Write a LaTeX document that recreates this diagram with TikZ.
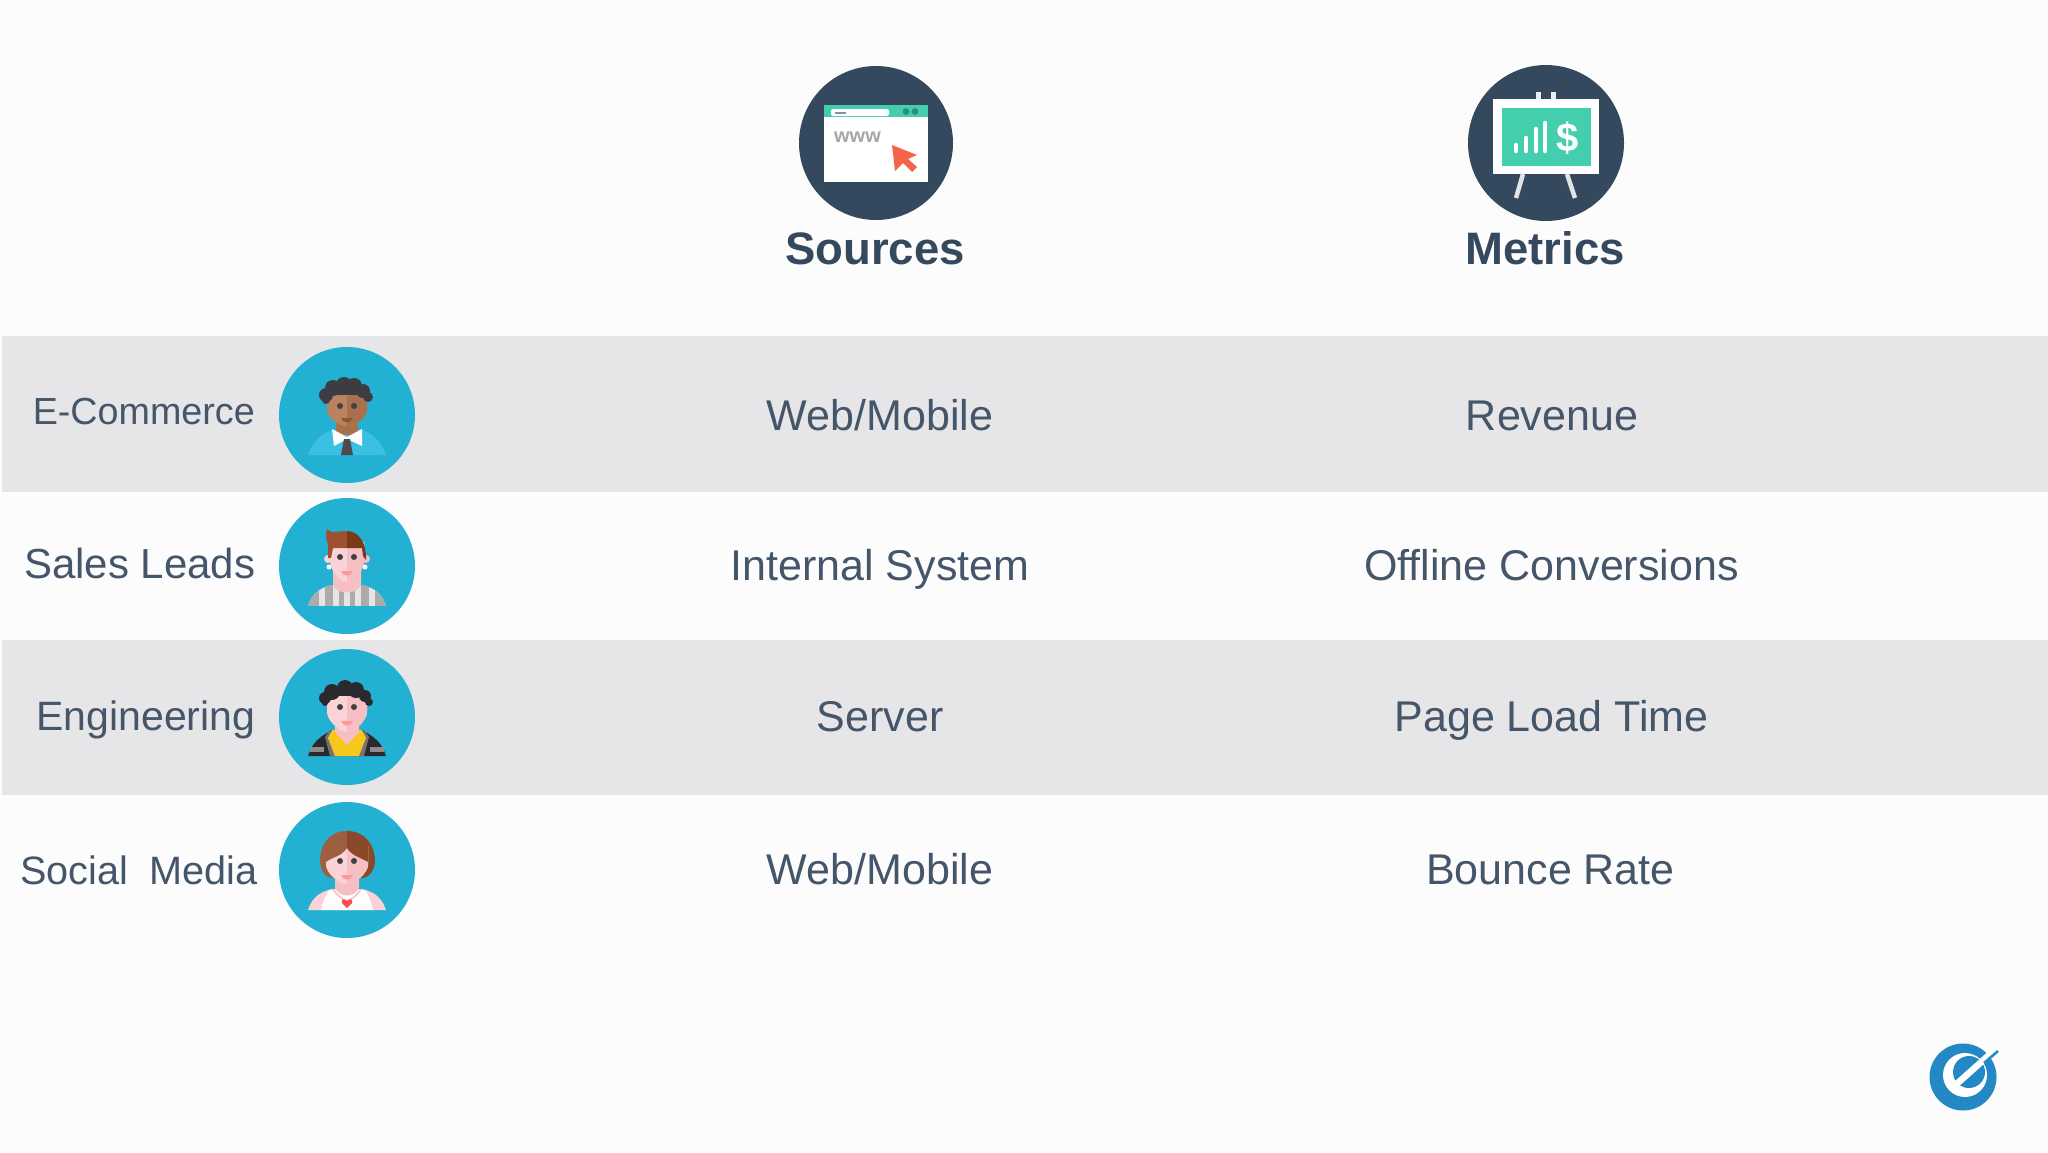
\documentclass[tikz,border=0pt]{standalone}
\usepackage{fontspec}
\setmainfont{Liberation Sans}
\definecolor{navy}{HTML}{34495E}
\definecolor{labelgray}{HTML}{45556A}
\definecolor{bandgray}{HTML}{E6E6E8}
\definecolor{teal}{HTML}{43CFAE}
\definecolor{tealdark}{HTML}{2A8F80}
\definecolor{cursorred}{HTML}{F4634A}
\definecolor{avatar}{HTML}{22B1D3}
\definecolor{shirtblue}{HTML}{3CC0E2}
\definecolor{logoblue}{HTML}{2388C4}
\definecolor{skinpink}{HTML}{FBD3D7}
\definecolor{skinshade}{HTML}{F5BFC3}
\definecolor{skinbrown}{HTML}{B9835F}
\definecolor{shadebrown}{HTML}{A8714E}
\definecolor{hairdark}{HTML}{3B3D42}
\definecolor{hairblack}{HTML}{2A2A2E}
\definecolor{hairred}{HTML}{9C5230}
\definecolor{hairreddark}{HTML}{7A3A18}
\definecolor{hairlight}{HTML}{9C6040}
\definecolor{hairmid}{HTML}{8A4A2A}
\definecolor{shirtyellow}{HTML}{F7C71E}
\tikzset{
	rowtext/.style={anchor=base, text=labelgray, inner sep=0pt, font=\fontsize{43}{50}\selectfont},
	headtext/.style={anchor=base, text=navy, inner sep=0pt, font=\bfseries\fontsize{45.5}{52}\selectfont},
	teamtext/.style={anchor=base east, text=labelgray, inner sep=0pt},
}
% face outline, its right half is shaded
\def\facepath[#1][#2](#3:#4){
	\fill[#1] (-#3,-24) -- (#3,-24) -- (#3,-5) .. controls (#3,3) and (8,#4) .. (0,#4) .. controls (-8,#4) and (-#3,3) .. (-#3,-5) -- cycle;
	\fill[#2] (0,-24) -- (#3,-24) -- (#3,-5) .. controls (#3,3) and (8,#4) .. (0,#4) -- cycle;
}
\def\eyes(#1){
	\fill[black!75] (-7,#1) circle (3);
	\fill[black!75] (7,#1) circle (3);
}
\def\mouth[#1](#2){
	\fill[#1] (-6,#2) .. controls (-4,#2+6) and (4,#2+6) .. (6,#2) -- cycle;
}
\begin{document}
\begin{tikzpicture}[x=1pt,y=-1pt]
			%%%%% START %%%%%
			\useasboundingbox (0,0) rectangle (2048,1152);
			\fill[white!99!black] (0,0) rectangle (2048,1152);
			
			% bands
			\fill[bandgray] (2,336) rectangle (2048,492);
			\fill[bandgray] (2,640) rectangle (2048,795);
			
			% sources icon
			\fill[navy] (876,143) circle (77);
			\fill[white] (824,105) rectangle (928,182);
			\fill[teal] (824,105) rectangle (928,117);
			\fill[white, rounded corners=2pt] (831,109) rectangle (889,116);
			\fill[navy!60] (835,111.5) rectangle (846,113.5);
			\fill[tealdark] (906,111.5) circle (3.4);
			\fill[tealdark] (915,111.5) circle (3.4);
			\node[anchor=base, text=black!35, inner sep=0pt, font=\bfseries\fontsize{20}{20}\selectfont] (www) at (857.5,142) {www};
			\fill[cursorred] (892,145) -- (917,155) -- (908,159) -- (917,167) -- (912,172) -- (903,163) -- (895,171) -- cycle;
			\node[headtext] (sources) at (875,264) {Sources};
			
			% metrics icon
			\fill[navy] (1546,143) circle (78);
			\draw[white!90!navy, line width=5pt] (1538,92) -- (1538,100);
			\draw[white!90!navy, line width=5pt] (1553,92) -- (1553,100);
			\draw[white!85!navy, line width=4.5pt] (1523,174) -- (1516,198);
			\draw[white!85!navy, line width=4.5pt] (1567,174) -- (1575,198);
			\fill[white] (1493,99) rectangle (1599,174);
			\fill[teal] (1502,108) rectangle (1591,166);
			\draw[white, line width=4.5pt, line cap=round] (1516,145) -- (1516,151);
			\draw[white, line width=4.5pt, line cap=round] (1526,138) -- (1526,151);
			\draw[white, line width=4.5pt, line cap=round] (1536,129) -- (1536,151);
			\draw[white, line width=4.5pt, line cap=round] (1545,123) -- (1545,151);
			\node[anchor=center, text=white, inner sep=0pt, font=\bfseries\fontsize{40}{40}\selectfont] (dollar) at (1568,138) {\$};
			\node[headtext] (metrics) at (1545,264) {Metrics};
			
			% avatars
			\fill[avatar] (347,415) circle (68);
			\fill[avatar] (347,566) circle (68);
			\fill[avatar] (347,717) circle (68);
			\fill[avatar] (347,870) circle (68);
			
			% e-commerce
			\begin{scope}[shift={(347,415)}]
				\fill[shirtblue] (-39,40) .. controls (-35,28) and (-28,20) .. (-15,15) -- (15,15) .. controls (28,20) and (35,28) .. (39,40) -- cycle;
				\fill[shadebrown] (-11,0) rectangle (11,20);
				\fill[white] (-15,14) -- (0,22) -- (15,14) -- (15,31) -- (0,24) -- (-13,31) -- cycle;
				\fill[black!70] (-3,24) -- (3,24) -- (6,40) -- (-6,40) -- cycle;
				\facepath[skinbrown][shadebrown](20:11)
				\fill[hairdark] (-21,-20) circle (7);
				\fill[hairdark] (-14,-27) circle (8);
				\fill[hairdark] (-3,-30) circle (8);
				\fill[hairdark] (7,-29) circle (8);
				\fill[hairdark] (16,-24) circle (7);
				\fill[hairdark] (21,-18) circle (5);
				\fill[hairdark] (-21,-15) circle (4);
				\fill[hairdark] (-16,-26) rectangle (17,-20);
				\eyes(-9)
				\mouth[brown!70!black](3)
			\end{scope}
			
			% sales leads
			\begin{scope}[shift={(347,566)}]
				\begin{scope}
					\clip (-39,40) .. controls (-35,28) and (-28,22) .. (-15,19) -- (15,19) .. controls (28,22) and (35,28) .. (39,40) -- cycle;
					\fill[black!10] (-39,15) rectangle (39,40);
					\fill[black!33] (-40,15) rectangle (-28,40);
					\fill[black!33] (-22,15) rectangle (-14,40);
					\fill[black!33] (-8,22) rectangle (-3,40);
					\fill[black!33] (3,22) rectangle (8,40);
					\fill[black!33] (14,15) rectangle (22,40);
					\fill[black!33] (28,15) rectangle (40,40);
				\end{scope}
				\fill[skinshade] (-14,0) -- (14,0) -- (14,19) .. controls (10,29) and (-10,29) .. (-14,19) -- cycle;
				\fill[skinpink] (-19,-7) circle (4);
				\fill[skinshade] (19,-7) circle (4);
				\fill[white] (-18,1) circle (2.5);
				\fill[white] (18,1) circle (2.5);
				\facepath[skinpink][skinshade](17:16)
				\fill[hairred] (-19,-8) -- (-19,-22) .. controls (-22,-28) and (-21,-33) .. (-20,-37) .. controls (-17,-32) and (-8,-35) .. (0,-35) -- (0,-18) -- (-14,-18) -- (-16,-8) -- cycle;
				\fill[hairreddark] (0,-35) .. controls (12,-35) and (20,-22) .. (19,-6) -- (16,-10) -- (15,-18) -- (0,-18) -- cycle;
				\eyes(-9)
				\mouth[red!40!white](5)
			\end{scope}
			
			% engineering
			\begin{scope}[shift={(347,717)}]
				\fill[hairblack] (-39,39) .. controls (-35,26) and (-28,20) .. (-15,13) -- (15,13) .. controls (28,20) and (35,26) .. (39,39) -- cycle;
				\fill[black!55] (-18,14) -- (-22,20) -- (-17,39) -- (-10,39) -- (-12,16) -- cycle;
				\fill[black!55] (18,14) -- (22,20) -- (17,39) -- (10,39) -- (12,16) -- cycle;
				\fill[shirtyellow] (-15,13) -- (15,13) -- (19,21) -- (12,39) -- (-12,39) -- (-19,21) -- cycle;
				\fill[black!45] (-37,30) rectangle (-23,35);
				\fill[black!45] (23,30) rectangle (37,35);
				\fill[skinshade] (-12,0) -- (12,0) -- (12,15) -- (0,28) -- (-12,15) -- cycle;
				\facepath[skinpink][skinshade](20:15)
				\fill[hairblack] (-22,-19) circle (6);
				\fill[hairblack] (-15,-25) circle (8);
				\fill[hairblack] (-2,-29) circle (8);
				\fill[hairblack] (9,-27) circle (8);
				\fill[hairblack] (18,-21) circle (6);
				\fill[hairblack] (22,-15) circle (4);
				\fill[hairblack] (-22,-14) circle (3);
				\fill[hairblack] (-16,-26) rectangle (16,-21);
				\eyes(-10)
				\mouth[red!40!white](4)
			\end{scope}
			
			% social media
			\begin{scope}[shift={(347,870)}]
				\fill[hairlight] (0,-39) .. controls (-20,-39) and (-27,-22) .. (-27,-10) .. controls (-27,0) and (-22,8) .. (-15,8) -- (0,8) -- cycle;
				\fill[hairmid] (0,-39) .. controls (20,-39) and (28,-22) .. (28,-10) .. controls (28,0) and (22,8) .. (15,8) -- (0,8) -- cycle;
				\fill[skinpink] (-39,40) .. controls (-35,28) and (-28,22) .. (-15,19) -- (15,19) .. controls (28,22) and (35,28) .. (39,40) -- cycle;
				\fill[white] (-26,40) .. controls (-24,32) and (-22,26) .. (-18,20) -- (18,20) .. controls (22,26) and (24,32) .. (26,40) -- cycle;
				\fill[skinshade] (-12,0) -- (12,0) -- (12,18) .. controls (8,28) and (-8,28) .. (-12,18) -- cycle;
				\draw[skinshade, line width=1.5pt] (-14,19) .. controls (-10,26) and (-5,28) .. (0,32);
				\draw[skinshade, line width=1.5pt] (14,19) .. controls (10,26) and (5,28) .. (0,32);
				\fill[red!70!white] (0,38) -- (-5,33) .. controls (-7,29) and (-2,28) .. (0,31) .. controls (2,28) and (7,29) .. (5,33) -- cycle;
				\facepath[skinpink][skinshade](21:14)
				\fill[hairlight] (-21,-8) .. controls (-15,-13) and (-6,-13) .. (0,-22) -- (0,-32) -- (-21,-28) -- cycle;
				\fill[hairmid] (0,-22) .. controls (4,-15) and (12,-13) .. (21,-8) -- (21,-28) -- (0,-32) -- cycle;
				\eyes(-9)
				\mouth[red!40!white](5)
			\end{scope}
			
			% team labels
			\node[teamtext, font=\fontsize{37.7}{44}\selectfont] (ecommerce) at (255,424) {E-Commerce};
			\node[teamtext, font=\fontsize{42}{48}\selectfont] (salesleads) at (255.5,578) {Sales Leads};
			\node[teamtext, font=\fontsize{41}{48}\selectfont] (engineering) at (255.5,730) {Engineering};
			\node[teamtext, font=\fontsize{39.6}{46}\selectfont] (socialmedia) at (258,884) {Social\ \ Media};
			
			% sources column
			\node[rowtext] (source1) at (880,430) {Web/Mobile};
			\node[rowtext] (source2) at (880,580) {Internal System};
			\node[rowtext] (source3) at (880,731) {Server};
			\node[rowtext] (source4) at (880,884) {Web/Mobile};
			
			% metrics column
			\node[rowtext] (metric1) at (1552,430) {Revenue};
			\node[rowtext] (metric2) at (1551.5,580) {Offline Conversions};
			\node[rowtext] (metric3) at (1551.5,731) {Page Load Time};
			\node[rowtext] (metric4) at (1550.5,884) {Bounce Rate};
			
			% logo
			\fill[logoblue] (1963,1077) circle (33.5);
			\fill[white] (1965,1075) circle (22);
			\fill[logoblue] (1969,1072) circle (16);
			\draw[white, line width=6.5pt] (1951,1089) -- (1998,1047);
			\draw[logoblue, line width=2.5pt] (1984,1063) -- (1998,1051);
			
			%%%%% END %%%%%
		\end{tikzpicture}
\end{document}
